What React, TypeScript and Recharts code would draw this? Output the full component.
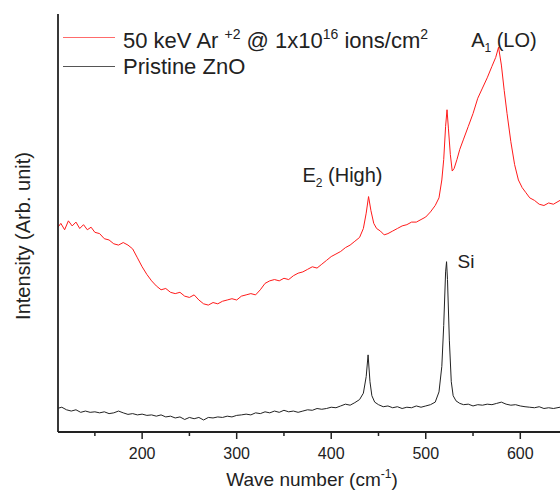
import { Legend, Line, LineChart, ReferenceDot, XAxis, YAxis } from "recharts";

// wavenumber (cm-1) / intensity (arb.)
const irrWave = [
  110, 114, 118, 122, 126, 130, 134, 138, 142, 146, 150, 155, 160, 165, 170, 175, 180, 185, 190, 195,
  200, 205, 210, 215, 220, 225, 230, 235, 240, 245, 250, 255, 260, 265, 270, 275, 280, 285, 290, 295,
  300, 305, 310, 315, 320, 325, 330, 335, 340, 345, 350, 355, 360, 365, 370, 375, 380, 385, 390, 395,
  400, 405, 410, 415, 420, 425, 430, 434, 437, 439.5, 442, 445, 448, 452, 456, 460, 465, 470, 475, 480,
  485, 490, 495, 500, 505, 510, 514, 517, 519, 521, 522.5, 524, 526, 528, 530, 533, 536, 540, 545, 550,
  555, 560, 565, 570, 574, 577, 580, 583, 586, 590, 594, 598, 602, 606, 610, 615, 620, 625, 630, 635, 642,
];
const irrValue = [
  7.6, 7.8, 7.55, 7.9, 7.7, 7.85, 7.6, 7.75, 7.55, 7.65, 7.45, 7.4, 7.2, 7.15, 7.0, 6.95, 7.05, 6.95, 6.8, 6.45,
  6.1, 5.8, 5.55, 5.35, 5.2, 5.25, 5.1, 5.05, 5.1, 4.95, 4.9, 5.0, 4.8, 4.65, 4.6, 4.7, 4.65, 4.75, 4.8, 4.85,
  4.8, 4.95, 5.0, 5.05, 5.0, 5.2, 5.45, 5.55, 5.6, 5.55, 5.65, 5.6, 5.75, 5.85, 5.9, 6.0, 6.1, 6.05, 6.2, 6.35,
  6.5, 6.6, 6.7, 6.85, 6.95, 7.1, 7.25, 7.6, 8.2, 8.85, 8.3, 7.8, 7.6, 7.5, 7.35, 7.4, 7.5, 7.6, 7.7, 7.75,
  7.85, 7.85, 7.95, 8.05, 8.25, 8.5, 8.8, 9.5, 10.3, 11.6, 12.25, 11.5, 10.5, 9.85, 9.95, 10.3, 10.7, 11.1, 11.6, 12.1,
  12.7, 13.1, 13.5, 13.95, 14.3, 14.7, 14.0, 13.0, 12.1, 11.0, 10.1, 9.5, 9.2, 9.0, 8.8, 8.7, 8.55, 8.5, 8.6, 8.55, 8.7,
];

const pristineWave = [
  110, 115, 120, 125, 130, 135, 140, 145, 150, 155, 160, 165, 170, 175, 180, 185, 190, 195, 200, 205,
  210, 215, 220, 225, 230, 235, 240, 245, 250, 255, 260, 265, 270, 275, 280, 285, 290, 295, 300, 305,
  310, 315, 320, 325, 330, 335, 340, 345, 350, 355, 360, 365, 370, 375, 380, 385, 390, 395, 400, 405,
  410, 415, 420, 425, 430, 434, 437, 439, 441, 443, 446, 450, 455, 460, 465, 470, 475, 480, 485, 490,
  495, 500, 505, 510, 514, 517, 519, 521, 522, 523, 525, 527, 529, 532, 536, 540, 545, 550, 555, 560,
  565, 570, 575, 580, 585, 590, 595, 600, 605, 610, 615, 620, 625, 630, 635, 642,
];
const pristineValue = [
  0.55, 0.6, 0.5, 0.45, 0.5, 0.4, 0.45, 0.4, 0.42, 0.38, 0.42, 0.35, 0.38, 0.45, 0.38, 0.32, 0.35, 0.3, 0.33, 0.28,
  0.3, 0.25, 0.3, 0.22, 0.25, 0.18, 0.22, 0.12, 0.2, 0.15, 0.2, 0.1, 0.2, 0.18, 0.22, 0.2, 0.25, 0.22, 0.28, 0.3,
  0.33, 0.3, 0.38, 0.35, 0.42, 0.38, 0.45, 0.4, 0.48, 0.42, 0.45, 0.4, 0.45, 0.5, 0.48, 0.55, 0.52, 0.55, 0.6, 0.58,
  0.65, 0.72, 0.68, 0.78, 0.9, 1.15, 1.8, 2.65, 1.6, 1.05, 0.8, 0.7, 0.62, 0.65, 0.58, 0.62, 0.55, 0.6, 0.58, 0.65,
  0.6, 0.65, 0.7, 0.8, 1.2, 2.2, 3.8, 5.9, 6.3, 5.6, 3.2, 1.6, 1.05, 0.85, 0.75, 0.7, 0.72, 0.65, 0.7, 0.68,
  0.72, 0.7, 0.75, 0.8, 0.72, 0.68, 0.7, 0.65, 0.62, 0.6, 0.58, 0.62, 0.55, 0.58, 0.55, 0.6,
];

const xTicks = [150, 200, 250, 300, 350, 400, 450, 500, 550, 600];
const yTicks = [0, 1, 2, 3, 4, 5, 6, 7, 8, 9, 10, 11, 12, 13, 14, 15];

const irrData = irrWave.map((w, i) => ({ w, v: irrValue[i] }));
const pristineData = pristineWave.map((w, i) => ({ w, v: pristineValue[i] }));

const FONT = "'Liberation Sans', Arial, sans-serif";
const INK = "#222";

function XTick(props: any) {
  const { x, y, payload } = props;
  const major = payload.value % 100 === 0;
  return (
    <g>
      <line x1={x} y1={y} x2={x} y2={y + (major ? 7 : 4)} stroke={INK} strokeWidth={1.5} />
      {major && (
        <text x={x} y={y + 27} textAnchor="middle" fontSize={16} fill={INK} fontFamily={FONT}>
          {payload.value}
        </text>
      )}
    </g>
  );
}

function annotation(main: string, sub: string, rest: string, size: number) {
  return (p: any) => {
    const { x, y } = p.viewBox;
    return (
      <text x={x} y={y} fontSize={size} fill={INK} fontFamily={FONT}>
        {main}
        {sub && (
          <tspan dy={5} fontSize={size * 0.6}>
            {sub}
          </tspan>
        )}
        <tspan dy={sub ? -5 : 0}>{rest}</tspan>
      </text>
    );
  };
}

function LegendBox() {
  const row = { display: "flex", alignItems: "center", height: 29 } as const;
  const sup = { fontSize: 14, verticalAlign: "9px" } as const;
  return (
    <div style={{ fontFamily: FONT, fontSize: 22, color: INK, whiteSpace: "nowrap", lineHeight: "29px" }}>
      <div style={row}>
        <span style={{ width: 52, height: 0, borderTop: "1.5px solid #ff6b6b", marginRight: 8 }} />
        <span>
          50 keV Ar <span style={sup}>+2</span> @ 1x10<span style={sup}>16</span> ions/cm<span style={sup}>2</span>
        </span>
      </div>
      <div style={row}>
        <span style={{ width: 52, height: 0, borderTop: "1.5px solid #555", marginRight: 8 }} />
        <span>Pristine ZnO</span>
      </div>
    </div>
  );
}

export default function App() {
  return (
    <div style={{ position: "absolute", left: 0, top: 0, width: 560, height: 490, background: "#fff" }}>
      <LineChart width={560} height={490} margin={{ top: 14, right: 0, bottom: 0, left: 0 }}>
        <XAxis
          dataKey="w"
          type="number"
          domain={[111, 642]}
          allowDataOverflow
          ticks={xTicks}
          interval={0}
          height={58}
          tickSize={0}
          tickMargin={0}
          tickLine={false}
          tick={<XTick />}
          axisLine={{ stroke: INK, strokeWidth: 1.8 }}
          label={{
            content: (p: any) => {
              const { x, y, width } = p.viewBox;
              return (
                <text x={x + width / 2 + 3} y={y + 54} textAnchor="middle" fontSize={19} fill={INK} fontFamily={FONT}>
                  Wave number (cm
                  <tspan dy={-8} fontSize={12}>
                    -1
                  </tspan>
                  <tspan dy={8}>)</tspan>
                </text>
              );
            },
          }}
        />
        <XAxis
          xAxisId="top"
          orientation="top"
          dataKey="w"
          type="number"
          domain={[111, 642]}
          allowDataOverflow
          height={0}
          tick={false}
          tickLine={false}
          axisLine={{ stroke: INK, strokeWidth: 1.8 }}
        />
        <YAxis
          type="number"
          domain={[-0.37, 16]}
          allowDataOverflow
          ticks={yTicks}
          interval={0}
          width={58}
          tick={false}
          tickSize={5}
          tickLine={{ stroke: INK, strokeWidth: 1.5 }}
          axisLine={{ stroke: INK, strokeWidth: 1.8 }}
          label={{
            content: (p: any) => {
              const { y, height } = p.viewBox;
              const cy = y + height / 2 + 13;
              return (
                <text
                  x={23}
                  y={cy}
                  transform={`rotate(-90 23 ${cy})`}
                  textAnchor="middle"
                  dominantBaseline="central"
                  fontSize={20}
                  fill={INK}
                  fontFamily={FONT}
                >
                  Intensity (Arb. unit)
                </text>
              );
            },
          }}
        />
        <Legend
          layout="horizontal"
          verticalAlign="middle"
          align="center"
          content={() => <LegendBox />}
          wrapperStyle={{ left: 63, top: 23, width: 420, height: 60 }}
        />
        <Line
          data={irrData}
          dataKey="v"
          stroke="#ff1a1a"
          strokeWidth={1}
          dot={false}
          isAnimationActive={false}
          name="irradiated"
        />
        <Line
          data={pristineData}
          dataKey="v"
          stroke="#222"
          strokeWidth={1}
          dot={false}
          isAnimationActive={false}
          name="pristine"
        />
        <ReferenceDot x={369.6} y={9.43} r={0} fill="none" stroke="none" label={{ content: annotation("E", "2", " (High)", 20) }} />
        <ReferenceDot x={548} y={14.71} r={0} fill="none" stroke="none" label={{ content: annotation("A", "1", " (LO)", 20) }} />
        <ReferenceDot x={533.7} y={6.05} r={0} fill="none" stroke="none" label={{ content: annotation("Si", "", "", 19) }} />
      </LineChart>
    </div>
  );
}
